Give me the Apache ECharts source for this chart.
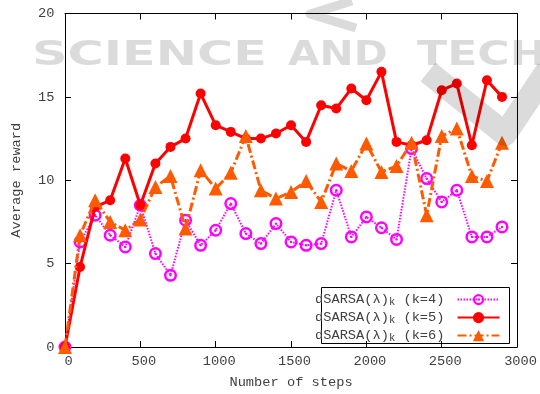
<!DOCTYPE html>
<html>
<head>
<meta charset="utf-8">
<script src="https://cdn.jsdelivr.net/npm/echarts@6/dist/echarts.min.js"></script>
<style>
html,body{margin:0;padding:0;background:#fff;}
#chart{width:540px;height:394px;}
</style>
</head>
<body>
<div id="chart"></div>
<script>
// ---- data ----
const steps = [0,100,200,300,400,500,600,700,800,900,1000,1100,1200,1300,1400,1500,1600,1700,1800,1900,2000,2100,2200,2300,2400,2500,2600,2700,2800,2900];
const rewardK4 = [0,6.3,7.9,6.7,6.0,8.5,5.6,4.3,7.6,6.1,7.0,8.6,6.8,6.2,7.4,6.3,6.1,6.2,9.4,6.6,7.8,7.15,6.45,11.9,10.1,8.7,9.4,6.6,6.6,7.2];
const rewardK5 = [0,4.8,8.4,8.8,11.3,8.5,11.0,12.0,12.5,15.2,13.3,12.9,12.5,12.5,12.8,13.3,12.3,14.5,14.3,15.5,14.8,16.5,12.3,12.1,12.4,15.4,15.8,12.1,16.0,15.0];
const rewardK6 = [0,6.7,8.8,7.5,7.0,7.65,9.6,10.25,7.1,10.6,9.5,10.45,12.65,9.4,8.9,9.3,9.95,8.7,11.0,10.55,12.2,10.5,10.85,12.25,7.9,12.65,13.1,10.25,9.95,12.25];
const seriesNames = ['k=4','k=5','k=6'];
const xTicks = {min:0, max:3000, interval:500};
const yTicks = {min:0, max:20, interval:5};
const xTitle = 'Number of steps';
const yTitle = 'Average reward';

const pairs = ys => steps.map((x,i)=>[x, ys[i]]);
const FONT = 'Liberation Mono';
const TXT = '#404040';
const FS = 13.7;

const ringDot = 'path://M0,-10A10,10,0,1,1,0,10A10,10,0,1,1,0,-10ZM0,-6.2A6.2,6.2,0,1,0,0,6.2A6.2,6.2,0,1,0,0,-6.2ZM0,-1.8A1.8,1.8,0,1,1,0,1.8A1.8,1.8,0,1,1,0,-1.8Z';

const chart = echarts.init(document.getElementById('chart'), null, {renderer:'canvas'});

const axisBase = {
  type:'value',
  splitLine:{show:false},
  axisLine:{show:true, onZero:false, lineStyle:{color:'#000', width:1}},
  axisTick:{show:true, inside:true, length:6, lineStyle:{color:'#000', width:1}},
};
const plain = v => String(v);

const wm = 'rgba(0,0,0,0.14)';
const option = {
  animation:false,
  backgroundColor:'#fff',
  grid:{left:65, right:21, top:13.5, bottom:44.5, containLabel:false},
  xAxis:[
    Object.assign({}, axisBase, {
      position:'bottom', min:xTicks.min, max:xTicks.max, interval:xTicks.interval,
      axisLabel:{show:true, margin:7.5, color:TXT, fontFamily:FONT, fontSize:FS, padding:[0,0,0,7], formatter:plain},
      name:xTitle, nameLocation:'middle', nameGap:28,
      nameTextStyle:{color:TXT, fontFamily:FONT, fontSize:FS}
    }),
    Object.assign({}, axisBase, {
      position:'top', min:xTicks.min, max:xTicks.max, interval:xTicks.interval,
      axisLabel:{show:false}
    })
  ],
  yAxis:[
    Object.assign({}, axisBase, {
      position:'left', min:yTicks.min, max:yTicks.max, interval:yTicks.interval,
      axisLabel:{show:true, margin:10.5, color:TXT, fontFamily:FONT, fontSize:FS, formatter:plain},
      name:yTitle, nameLocation:'middle', nameGap:42,
      nameTextStyle:{color:TXT, fontFamily:FONT, fontSize:FS}
    }),
    Object.assign({}, axisBase, {
      position:'right', min:yTicks.min, max:yTicks.max, interval:yTicks.interval,
      axisLabel:{show:false}
    })
  ],
  legend:{
    orient:'vertical', left:315, top:286.6, padding:0,
    align:'right', itemWidth:42, itemHeight:14, itemGap:-3,
    data:seriesNames,
    formatter: n => '{a|dSARSA(λ)}{s|k}{b| (' + n + ')}',
    textStyle:{
      color:TXT, fontFamily:FONT, fontSize:FS,
      rich:{
        a:{color:TXT, fontFamily:FONT, fontSize:FS, lineHeight:16},
        s:{color:TXT, fontFamily:FONT, fontSize:10.5, lineHeight:6, verticalAlign:'bottom', padding:[10,0,0,0]},
        b:{color:TXT, fontFamily:FONT, fontSize:FS, lineHeight:16, padding:[0,8,0,0]}
      }
    }
  },
  graphic:[
    {type:'rect', z:-1, silent:true, shape:{x:321.5, y:287.5, width:188, height:56}, style:{fill:'#fff', stroke:'#000', lineWidth:1}},
    // watermark
    {type:'text', z:100, silent:true, x:32, y:39, scaleX:1.45, style:{text:'SCIENCE', fill:wm, font:'bold 34px "DejaVu Sans"', textVerticalAlign:'top'}},
    {type:'text', z:100, silent:true, x:288, y:39, scaleX:1.2, style:{text:'AND', fill:wm, font:'bold 34px "DejaVu Sans"', textVerticalAlign:'top'}},
    {type:'text', z:100, silent:true, x:417, y:39, scaleX:1.3, style:{text:'TECHNOLOGY', fill:wm, font:'bold 34px "DejaVu Sans"', textVerticalAlign:'top'}},
    {type:'polyline', z:100, silent:true, shape:{points:[[352,1],[310,14],[356,28]]}, style:{stroke:wm, lineWidth:9, fill:null, lineJoin:'round'}},
    {type:'polyline', z:100, silent:true, shape:{points:[[428,72],[505,134],[548,70]]}, style:{stroke:wm, lineWidth:24, fill:null, lineJoin:'round'}}
  ],
  series:[
    {
      name:seriesNames[0], type:'line', data:pairs(rewardK4), clip:false,
      symbol:ringDot, symbolSize:13, showAllSymbol:true,
      itemStyle:{color:'#ff00ff', borderWidth:0},
      lineStyle:{color:'#ff00ff', width:2, type:[1.5,1.5]}, z:2
    },
    {
      name:seriesNames[1], type:'line', data:pairs(rewardK5), clip:false,
      symbol:'circle', symbolSize:10, showAllSymbol:true,
      itemStyle:{color:'#ff0000', borderWidth:0},
      lineStyle:{color:'#ff0000', width:3, type:'solid'}, z:3
    },
    {
      name:seriesNames[2], type:'line', data:pairs(rewardK6), clip:false,
      symbol:'triangle', symbolSize:14, showAllSymbol:true,
      itemStyle:{color:'#ff5a00', borderWidth:0},
      lineStyle:{color:'#ff5a00', width:3, type:[9,3,2,3]}, z:4
    }
  ]
};
chart.setOption(option);
</script>
</body>
</html>
